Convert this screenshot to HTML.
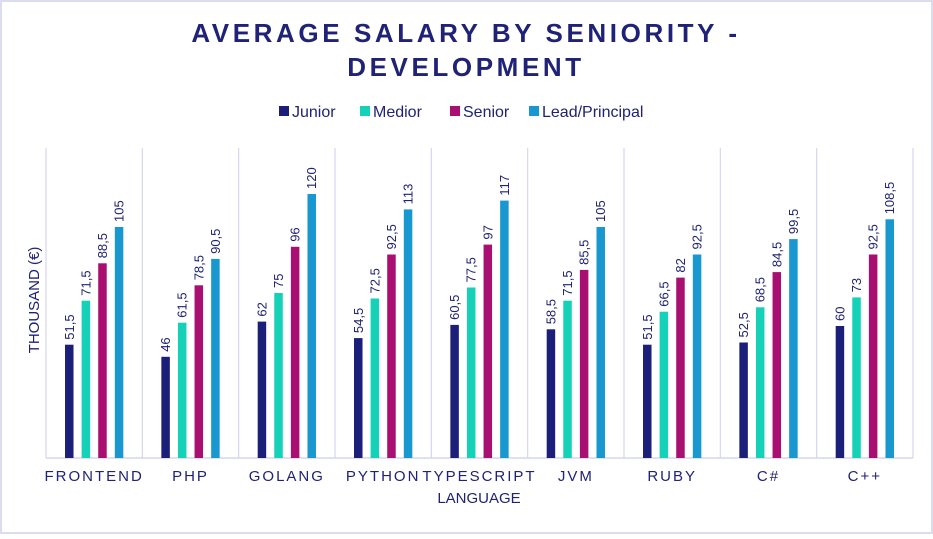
<!DOCTYPE html>
<html><head><meta charset="utf-8"><style>
html,body{margin:0;padding:0;background:#fff;}
body{width:933px;height:534px;overflow:hidden;}
svg text{font-family:"Liberation Sans",sans-serif;}
</style></head><body>
<svg id="chart" width="933" height="534" xmlns="http://www.w3.org/2000/svg">
<rect x="1" y="1" width="931" height="532" fill="#fff" stroke="#dcdcf0" stroke-width="2"/>
<text x="466" y="42" text-anchor="middle" font-size="26" font-weight="bold" letter-spacing="3.6" fill="#1f2277">AVERAGE SALARY BY SENIORITY -</text>
<text x="466" y="76" text-anchor="middle" font-size="26" font-weight="bold" letter-spacing="3.6" fill="#1f2277">DEVELOPMENT</text>
<g id="legend"></g>
<g id="grid"></g>
<g id="bars"></g>
<g id="xlabels"></g>
<text x="479" y="503" text-anchor="middle" font-size="15" fill="#1f2277">LANGUAGE</text>
<text transform="translate(39,300) rotate(-90)" text-anchor="middle" font-size="15" fill="#1f2277">THOUSAND (€)</text>
</svg>
<script>
const categories = ["FRONTEND","PHP","GOLANG","PYTHON","TYPESCRIPT","JVM","RUBY","C#","C++"];
const seriesNames = ["Junior","Medior","Senior","Lead/Principal"];
const junior = [51.5,46,62,54.5,60.5,58.5,51.5,52.5,60];
const medior = [71.5,61.5,75,72.5,77.5,71.5,66.5,68.5,73];
const senior = [88.5,78.5,96,92.5,97,85.5,82,84.5,92.5];
const lead = [105,90.5,120,113,117,105,92.5,99.5,108.5];
const series = [junior, medior, senior, lead];
const colors = ["#1b1f7a","#14d1b7","#a80f70","#1898cf"];

const NS = "http://www.w3.org/2000/svg";
const plotL = 46, plotR = 913, baseY = 458, pxPerUnit = 2.2;
const gw = (plotR - plotL) / categories.length;
const xCenter = i => plotL + gw * (i + 0.5);
const yScale = v => baseY - v * pxPerUnit;
const fmt = v => String(v).replace(".", ",");
function mk(tag, attrs, parent){const e=document.createElementNS(NS,tag);for(const k in attrs)e.setAttribute(k,attrs[k]);parent.appendChild(e);return e;}

const legend = document.getElementById("legend");
const legX = [279, 360, 450, 529];
seriesNames.forEach((n, s) => {
  const r = mk("rect", {x: legX[s], y: 106, width: 10, height: 10, fill: colors[s]}, legend);
  
  
  const t = mk("text", {x: legX[s] + 13, y: 117, "font-size": 16, fill: "#1f2277"}, legend);
  
  
  t.textContent = n;
});

const grid = document.getElementById("grid");
for (let i = 0; i <= categories.length; i++) {
  const x = plotL + gw * i;
  const l = mk("line", {x1: x, x2: x, y1: 148, y2: baseY, stroke: "#d6d6f0", "stroke-width": 1.2}, grid);
  
  
}
const ax = mk("line", {x1: plotL, x2: plotR, y1: baseY, y2: baseY, stroke: "#d6d6f0", "stroke-width": 1.5}, grid);



const bars = document.getElementById("bars");
const step = 16.6, bw = 8.5;
categories.forEach((c, i) => {
  series.forEach((arr, s) => {
    const cx = xCenter(i) + (s - 1.5) * step;
    const y = yScale(arr[i]);
    const r = mk("rect", {x: cx - bw / 2, y: y, width: bw, height: baseY - y, fill: colors[s]}, bars);
    
    
    const t = mk("text", {transform: `translate(${cx + 4.5},${y - 5}) rotate(-90)`, "font-size": 13, fill: "#1f2277"}, bars);
    
    
    t.textContent = fmt(arr[i]);
  });
  const xl = mk("text", {x: xCenter(i), y: 481, "text-anchor": "middle", "font-size": 15, "letter-spacing": 2, fill: "#1f2277"}, document.getElementById("xlabels"));
  
  
  xl.textContent = c;
});
</script>
</body></html>
